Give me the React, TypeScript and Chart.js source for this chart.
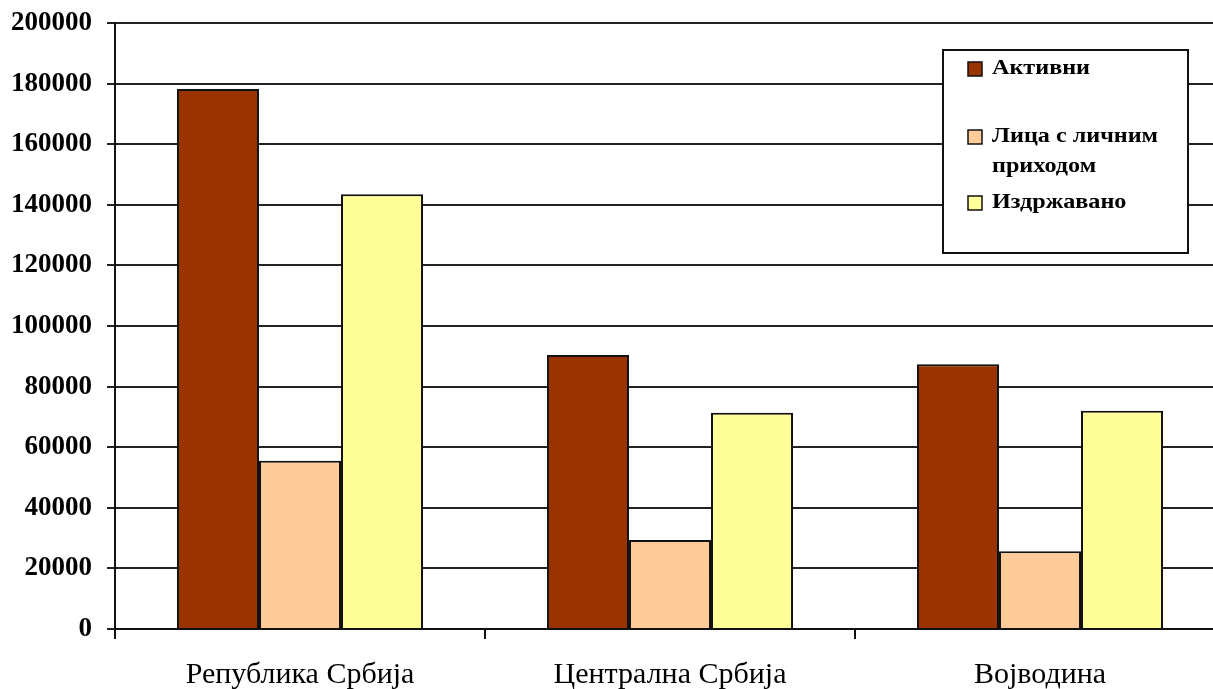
import React, { useEffect, useRef } from "react";
import { Chart, registerables } from "chart.js";

Chart.register(...registerables);

const categories = ["Република Србија", "Централна Србија", "Војводина"];
const seriesNames = ["Активни", "Лица с личним приходом", "Издржавано"];
const aktivni = [178200, 90400, 87400];
const licniPrihod = [55500, 29400, 25700];
const izdrzavano = [143500, 71400, 72000];
const seriesColors = ["#993300", "#FFCC99", "#FFFF99"];
const yMax = 200000;
const yStep = 20000;

const SERIF = "'Liberation Serif', 'Times New Roman', serif";

const legendPlugin = {
  id: "boxLegend",
  afterDraw(chart: any) {
    const ctx = chart.ctx;
    const bx = 943, by = 50, bw = 245, bh = 203;
    ctx.save();
    ctx.fillStyle = "#fff";
    ctx.fillRect(bx, by, bw, bh);
    ctx.strokeStyle = "#111";
    ctx.lineWidth = 2;
    ctx.strokeRect(bx, by, bw, bh);
    const rowY = [69, 137, 203];
    const sx = 1.15;
    ctx.font = `bold 21px ${SERIF}`;
    ctx.textBaseline = "middle";
    chart.data.datasets.forEach((ds: any, i: number) => {
      const y = rowY[i];
      ctx.fillStyle = ds.backgroundColor;
      ctx.fillRect(968, y - 7, 14, 14);
      ctx.strokeStyle = "#111";
      ctx.lineWidth = 1.5;
      ctx.strokeRect(968, y - 7, 14, 14);
      const words = String(ds.label).split(" ");
      const lines: string[] = [];
      let cur = "";
      for (const w of words) {
        const t = cur ? cur + " " + w : w;
        if (ctx.measureText(t).width * sx > 182 && cur) {
          lines.push(cur);
          cur = w;
        } else cur = t;
      }
      if (cur) lines.push(cur);
      ctx.fillStyle = "#000";
      lines.forEach((ln, k) => {
        ctx.save();
        ctx.translate(992, y + k * 30);
        ctx.scale(sx, 1);
        ctx.fillText(ln, 0, 0);
        ctx.restore();
      });
    });
    ctx.restore();
  },
};

export default function App() {
  const ref = useRef<HTMLCanvasElement>(null);
  useEffect(() => {
    const data = [aktivni, licniPrihod, izdrzavano];
    const chart = new Chart(ref.current!, {
      type: "bar",
      data: {
        labels: categories,
        datasets: seriesNames.map((name, i) => ({
          label: name,
          data: data[i],
          backgroundColor: seriesColors[i],
          borderColor: "#111",
          borderWidth: 2,
          categoryPercentage: 0.665,
          barPercentage: 1.0,
        })),
      },
      options: {
        animation: false,
        responsive: true,
        maintainAspectRatio: false,
        layout: { padding: { top: 23, left: 0, right: 0, bottom: 0 } },
        plugins: {
          legend: { display: false },
          tooltip: { enabled: false },
        },
        scales: {
          x: {
            grid: {
              drawOnChartArea: false,
              drawTicks: true,
              tickLength: 10,
              color: "#111",
              lineWidth: 2,
              offset: true,
            },
            border: { color: "#111", width: 2 },
            ticks: {
              color: "#000",
              padding: 18,
              font: { family: SERIF, size: 30 },
            },
            afterFit: (s: any) => {
              s.height = 60;
              s.paddingLeft = 0;
              s.paddingRight = 0;
            },
          },
          y: {
            min: 0,
            max: yMax,
            ticks: {
              stepSize: yStep,
              color: "#000",
              padding: 15,
              font: { family: SERIF, size: 27, weight: "bold" },
              callback: (v: any) => String(v),
            },
            grid: {
              color: "#222",
              lineWidth: 2,
              tickLength: 8,
            },
            border: { color: "#111", width: 2 },
            afterFit: (s: any) => {
              s.width = 115;
              s.paddingTop = 0;
              s.paddingBottom = 0;
            },
          },
        },
      },
      plugins: [legendPlugin],
    });
    return () => chart.destroy();
  }, []);
  return (
    <div
      style={{
        position: "fixed",
        left: 0,
        top: 0,
        width: 1213,
        height: 689,
        overflow: "hidden",
        background: "#fff",
      }}
    >
      <div style={{ position: "relative", width: 1225, height: 689 }}>
        <canvas ref={ref} />
      </div>
    </div>
  );
}
